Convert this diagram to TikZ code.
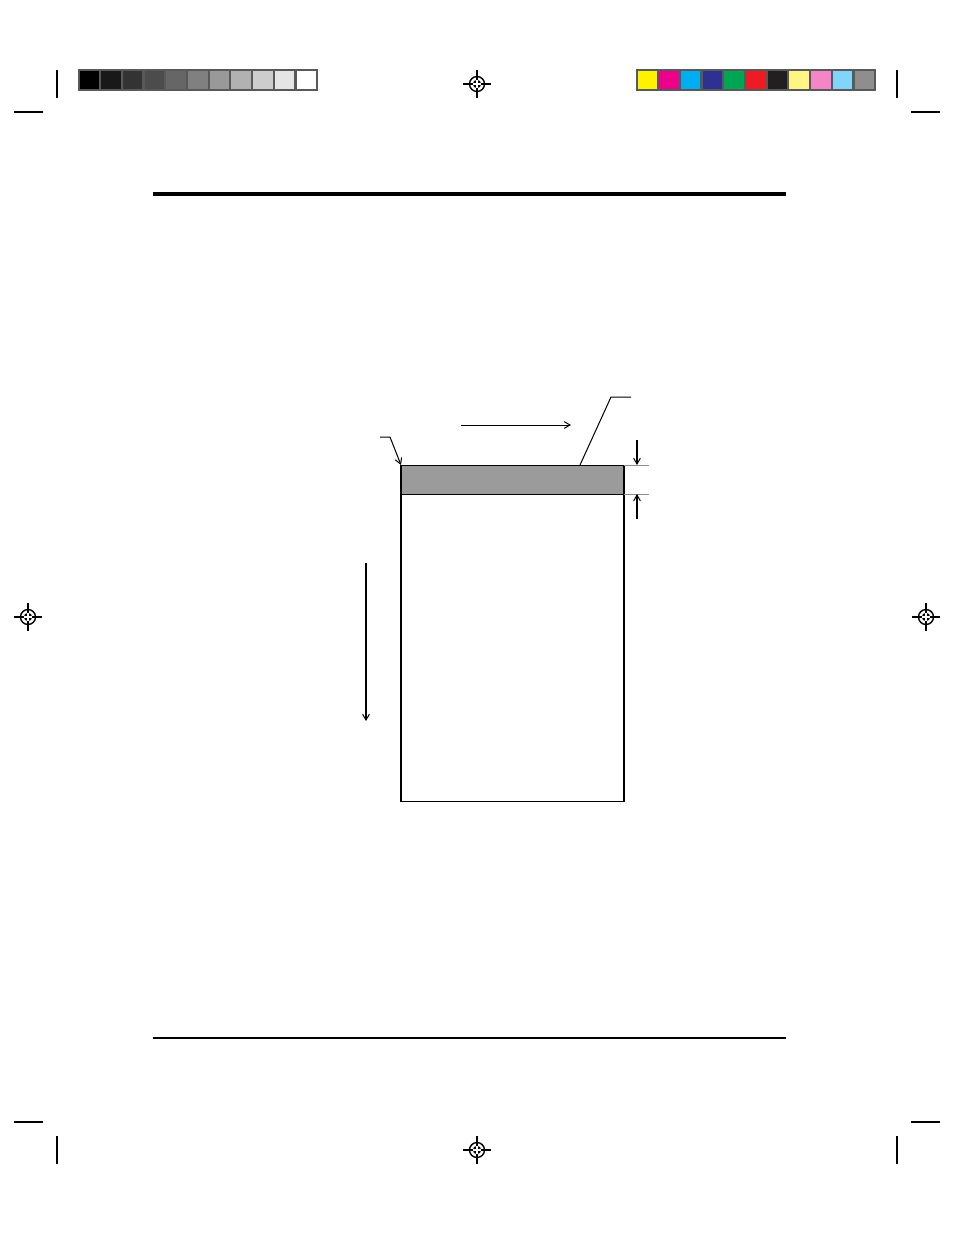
\documentclass[tikz,border=0pt]{standalone}
\usepackage{tikz}
\usetikzlibrary{arrows}
\usepackage{xcolor}
\definecolor{barframe}{HTML}{58595B}
\definecolor{bandgrey}{HTML}{9B9B9B}
\definecolor{cyel}{HTML}{FFF200}
\definecolor{cmag}{HTML}{EC008C}
\definecolor{ccya}{HTML}{00AEEF}
\definecolor{cblu}{HTML}{2E3192}
\definecolor{cgre}{HTML}{00A651}
\definecolor{cred}{HTML}{ED1C24}
\definecolor{cbla}{HTML}{231F20}
\definecolor{clye}{HTML}{FFF681}
\definecolor{cpin}{HTML}{F585C7}
\definecolor{clbl}{HTML}{7FD6F8}
\definecolor{cgry}{HTML}{8F8E8E}

\begin{document}
\begin{tikzpicture}[line cap=butt,line join=miter,>=angle 60,x=0.6415pt,y=-0.6415pt,line width=0.65pt]
\useasboundingbox (0,0) rectangle (954,1235);
% colour bars
\fill [barframe] (78,69) rectangle (318,91);
\foreach \i in {0,...,10}{
  \pgfmathsetmacro{\lev}{100-10*\i}
  \fill [black!\lev] (79.5+\i*21.7,70.8) rectangle (99+\i*21.7,89.2);
}
\fill [barframe] (636,69) rectangle (876,91);
\foreach \c [count=\i from 0] in {cyel,cmag,ccya,cblu,cgre,cred,cbla,clye,cpin,clbl,cgry}{
  \fill [\c] (637.5+\i*21.7,70.8) rectangle (657+\i*21.7,89.2);
}
% crop marks
\draw [line width=1pt] (57,70)--(57,98) (14,112)--(43,112);
\draw [line width=1pt] (897,70)--(897,98) (911,112)--(940,112);
\draw [line width=1pt] (57,1136)--(57,1164) (14,1122)--(43,1122);
\draw [line width=1pt] (897,1136)--(897,1164) (911,1122)--(940,1122);
% registration marks
\foreach \mx/\my in {477/84,28/617,926/617,477/1150}{
  \begin{scope}[shift={(\mx,\my)}]
  \draw [line width=0.9pt] (-14,0)--(14,0) (0,-14)--(0,14);
  \draw [line width=0.9pt] (0,0) circle (7.5);
  \fill (0,0) circle (4.2);
  \draw [white,line width=0.7pt] (-4.2,0)--(4.2,0) (0,-4.2)--(0,4.2);
  \end{scope}
}
% page rules
\draw [line width=2pt] (153,194)--(786,194);
\draw [line width=0.8pt] (153,1038)--(786,1038);
% sheet
\coordinate (sTL) at (401,465);
\coordinate (sTR) at (624,465);
\coordinate (bBR) at (624,494);
\coordinate (sBR) at (624,801);
\fill [bandgrey] (sTL) rectangle (bBR);
\draw (sTL) rectangle (sBR);
\draw (401,494)--(bBR);
% feed direction
\coordinate (fa) at (461,425);
\coordinate (fb) at (571,425);
\draw [->] (fa)--(fb);
\coordinate (da) at (366,563);
\coordinate (db) at (366,721);
\draw [->] (da)--(db);
% leaders
\coordinate (la) at (380,437);
\coordinate (lb) at (390,437);
\draw [->] (la)--(lb)--(sTL);
\coordinate (ra) at (631,397);
\coordinate (rb) at (611,397);
\coordinate (rc) at (580,465);
\draw (ra)--(rb)--(rc);
% band width
\draw [black!45] (sTR)--(649,465) (bBR)--(649,494);
\coordinate (ua) at (637,440);
\coordinate (ub) at (637,465);
\coordinate (va) at (637,519);
\coordinate (vb) at (637,494);
\draw [->] (ua)--(ub);
\draw [->] (va)--(vb);
\end{tikzpicture}
\end{document}
